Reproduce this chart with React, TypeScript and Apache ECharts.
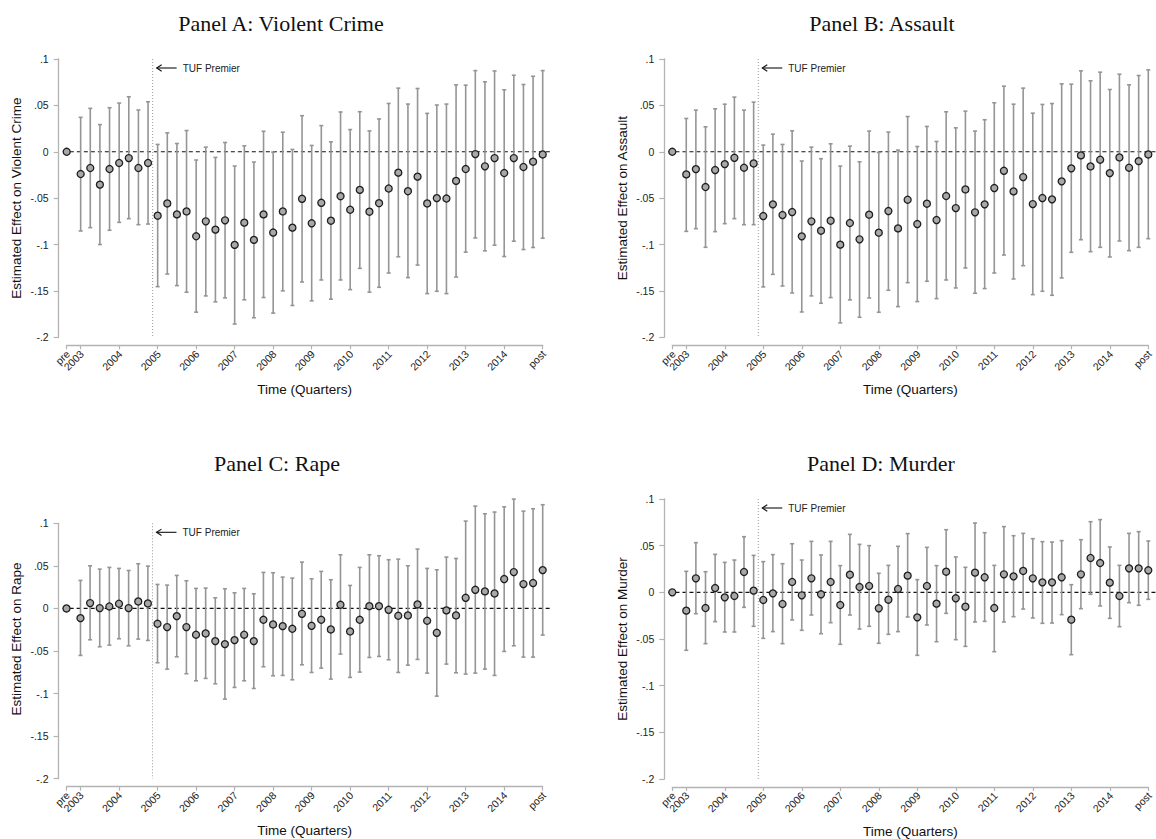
import React, { useEffect, useRef } from "react";
import * as echarts from "echarts";

// ---------- data ----------
const PRE_X = -1.45; // position of "pre" on the quarter axis (2003Q1 = 0)
const POST_X = 48; // position of "post"
const TUF_X = 7.48; // TUF premiere
const quarterX: number[] = [PRE_X, ...Array.from({ length: 48 }, (_, i) => i), POST_X];

const tickValues = [PRE_X, 0, 4, 8, 12, 16, 20, 24, 28, 32, 36, 40, 44, POST_X];
const tickLabels = ["pre", "2003", "2004", "2005", "2006", "2007", "2008", "2009", "2010", "2011", "2012", "2013", "2014", "post"];

const panelTitles = ["Panel A: Violent Crime", "Panel B: Assault", "Panel C: Rape", "Panel D: Murder"];
const yNames = [
  "Estimated Effect on Violent Crime",
  "Estimated Effect on Assault",
  "Estimated Effect on Rape",
  "Estimated Effect on Murder",
];

const coefA = [0,
  -0.024, -0.0175, -0.0354, -0.0186,
  -0.0121, -0.0068, -0.0175, -0.0121,
  -0.0689, -0.0557, -0.0675, -0.0643,
  -0.0911, -0.075, -0.0839, -0.0739,
  -0.1004, -0.0764, -0.095, -0.0675,
  -0.0871, -0.0643, -0.0818, -0.0507,
  -0.0771, -0.055, -0.0743, -0.0479,
  -0.0625, -0.0411, -0.0646, -0.0554,
  -0.0396, -0.0225, -0.0425, -0.0268,
  -0.0557, -0.05, -0.0504, -0.0314,
  -0.0186, -0.0025, -0.0157, -0.0068,
  -0.0229, -0.0068, -0.0164, -0.0107,
  -0.0029];
const upperA = [null,
  0.0371, 0.0468, 0.0293, 0.0475,
  0.0525, 0.0593, 0.045, 0.0539,
  0.0079, 0.0204, 0.0089, 0.0229,
  -0.0089, 0.005, -0.0061, 0.01,
  -0.0154, 0.0064, -0.0111, 0.0221,
  -0.0004, 0.0211, 0.0025, 0.0389,
  0.0068, 0.0282, 0.0107, 0.0429,
  0.0239, 0.0432, 0.0225, 0.0354,
  0.0521, 0.0686, 0.0514, 0.0682,
  0.0414, 0.0504, 0.0514, 0.0721,
  0.0718, 0.0875, 0.0754, 0.0871,
  0.0668, 0.0825, 0.0725, 0.0814,
  0.0875];
const lowerA = [null,
  -0.0854, -0.0818, -0.1, -0.0846,
  -0.0761, -0.0721, -0.0786, -0.0779,
  -0.1454, -0.1318, -0.1443, -0.1514,
  -0.1729, -0.1554, -0.1618, -0.1575,
  -0.1857, -0.1596, -0.1789, -0.1571,
  -0.1739, -0.15, -0.1657, -0.1404,
  -0.1607, -0.1382, -0.1589, -0.1382,
  -0.1486, -0.1257, -0.1514, -0.1461,
  -0.1307, -0.1132, -0.1357, -0.1221,
  -0.1529, -0.1504, -0.1529, -0.135,
  -0.1082, -0.0929, -0.1068, -0.1007,
  -0.1129, -0.0964, -0.1054, -0.1032,
  -0.0932];

const coefB = [0,
  -0.0244, -0.0187, -0.038, -0.0197,
  -0.0133, -0.0065, -0.0172, -0.0126,
  -0.0693, -0.0567, -0.0682, -0.065,
  -0.0912, -0.075, -0.0851, -0.0743,
  -0.1001, -0.0768, -0.0944, -0.0678,
  -0.0872, -0.0639, -0.0826, -0.0517,
  -0.0779, -0.056, -0.0736, -0.0477,
  -0.0607, -0.0406, -0.0653, -0.0567,
  -0.0391, -0.0205, -0.0427, -0.0273,
  -0.0564, -0.0499, -0.0513, -0.0319,
  -0.0179, -0.0039, -0.0158, -0.0086,
  -0.023, -0.0061, -0.0172, -0.0101,
  -0.0029];
const upperB = [null,
  0.0359, 0.0449, 0.0269, 0.0463,
  0.0513, 0.0589, 0.0449, 0.0535,
  0.0072, 0.019, 0.0079, 0.0226,
  -0.01, 0.005, -0.0075, 0.0086,
  -0.0154, 0.0061, -0.0108, 0.0223,
  -0.0007, 0.0212, 0.0018, 0.038,
  0.0057, 0.0273, 0.0111, 0.0431,
  0.0258, 0.0438, 0.0223, 0.0345,
  0.0528, 0.0707, 0.0513, 0.0686,
  0.0416, 0.051, 0.052, 0.0732,
  0.0729, 0.0872, 0.0765, 0.0858,
  0.0671, 0.0836, 0.0721, 0.0822,
  0.0883];
const lowerB = [null,
  -0.0858, -0.0829, -0.103, -0.0861,
  -0.0775, -0.0721, -0.0786, -0.0786,
  -0.1457, -0.1321, -0.1447, -0.1522,
  -0.1727, -0.1554, -0.1633, -0.1572,
  -0.1845, -0.1597, -0.1784, -0.1576,
  -0.173, -0.1493, -0.1669, -0.1411,
  -0.1615, -0.1396, -0.1583, -0.1382,
  -0.1468, -0.1253, -0.1525, -0.1475,
  -0.1307, -0.1113, -0.1371, -0.1228,
  -0.154, -0.1504, -0.1547, -0.136,
  -0.1084, -0.0948, -0.1077, -0.103,
  -0.1134, -0.0962, -0.1066, -0.103,
  -0.0937];

const coefC = [0,
  -0.0114, 0.0063, 0.0004, 0.0023,
  0.0055, 0.0004, 0.0082, 0.0059,
  -0.018, -0.0219, -0.009, -0.0219,
  -0.0309, -0.0294, -0.0384, -0.0419,
  -0.0372, -0.0309, -0.0384, -0.0133,
  -0.0188, -0.0208, -0.0239, -0.0063,
  -0.0204, -0.0133, -0.0247, 0.0043,
  -0.027, -0.0133, 0.0027, 0.0027,
  -0.0016, -0.0086, -0.0082, 0.0047,
  -0.0145, -0.0286, -0.0023, -0.0082,
  0.0125, 0.0219, 0.02, 0.0176,
  0.0345, 0.0427, 0.0286, 0.0298,
  0.045];
const upperC = [null,
  0.0329, 0.0501, 0.0462, 0.0482,
  0.047, 0.0446, 0.0525, 0.0497,
  0.0282, 0.0274, 0.0388, 0.0325,
  0.0235, 0.0239, 0.0125, 0.0231,
  0.0184, 0.0235, 0.0172, 0.0423,
  0.0419, 0.0368, 0.0356, 0.0544,
  0.0348, 0.0435, 0.0337, 0.063,
  0.027, 0.0482, 0.063, 0.0619,
  0.0572, 0.0579, 0.0501, 0.0697,
  0.047, 0.0454, 0.0603, 0.0587,
  0.1026, 0.1202, 0.1112, 0.1132,
  0.1194, 0.1284, 0.1143, 0.1171,
  0.1218];
const lowerC = [null,
  -0.0552, -0.0368, -0.045, -0.0431,
  -0.0356, -0.0439, -0.036, -0.0376,
  -0.0638, -0.0713, -0.0568, -0.0767,
  -0.085, -0.0822, -0.0885, -0.1065,
  -0.0928, -0.085, -0.094, -0.0685,
  -0.0791, -0.0787, -0.0838, -0.0662,
  -0.0752, -0.0701, -0.083, -0.0536,
  -0.081, -0.0748, -0.0576, -0.0564,
  -0.0603, -0.0752, -0.0666, -0.0599,
  -0.076, -0.103, -0.0654, -0.0756,
  -0.0771, -0.076, -0.0713, -0.0787,
  -0.0505, -0.0439, -0.0572, -0.0572,
  -0.0313];

const coefD = [0,
  -0.0196, 0.015, -0.0168, 0.0046,
  -0.0054, -0.0039, 0.0218, 0.0018,
  -0.0082, -0.0011, -0.0125, 0.0111,
  -0.0032, 0.015, -0.0021, 0.0111,
  -0.0136, 0.0189, 0.0057, 0.0068,
  -0.0171, -0.0079, 0.0036, 0.0179,
  -0.0268, 0.0068, -0.0121, 0.0221,
  -0.0064, -0.0154, 0.0211, 0.0161,
  -0.0168, 0.0193, 0.0171, 0.0229,
  0.015, 0.0107, 0.0107, 0.0161,
  -0.0293, 0.0193, 0.0368, 0.0314,
  0.0104, -0.0039, 0.0257, 0.0257,
  0.0236];
const upperD = [null,
  0.0225, 0.0532, 0.0221, 0.0407,
  0.0321, 0.0346, 0.0596, 0.0396,
  0.0329, 0.0404, 0.0307, 0.0521,
  0.0346, 0.0546, 0.04, 0.0546,
  0.0286, 0.0621, 0.0514, 0.05,
  0.0204, 0.0289, 0.0493, 0.0629,
  0.0136, 0.0482, 0.0286, 0.0671,
  0.0379, 0.0268, 0.0743, 0.0639,
  0.0289, 0.0704, 0.0607, 0.0632,
  0.0575, 0.0543, 0.0539, 0.0554,
  0.0082, 0.0564, 0.0757, 0.0779,
  0.0486, 0.0289, 0.0632, 0.065,
  0.055];
const lowerD = [null,
  -0.0621, -0.0229, -0.055, -0.0314,
  -0.0425, -0.0425, -0.0161, -0.0364,
  -0.0493, -0.0421, -0.055, -0.0296,
  -0.0407, -0.0243, -0.0443, -0.0325,
  -0.0557, -0.0243, -0.0393, -0.0364,
  -0.0546, -0.045, -0.0421, -0.0264,
  -0.0675, -0.035, -0.0529, -0.0225,
  -0.0507, -0.0579, -0.0318, -0.0311,
  -0.0636, -0.0318, -0.0261, -0.0179,
  -0.0275, -0.0332, -0.0329, -0.0239,
  -0.0668, -0.0175, -0.0021, -0.0146,
  -0.0279, -0.0368, -0.0111, -0.0139,
  -0.0075];

const coefs = [coefA, coefB, coefC, coefD];
const uppers = [upperA, upperB, upperC, upperD];
const lowers = [lowerA, lowerB, lowerC, lowerD];

// ---------- layout ----------
const grids = [
  { left: 66.7, top: 59, width: 476, height: 278.3 },
  { left: 672.3, top: 59, width: 476, height: 278.3 },
  { left: 66.5, top: 523.3, width: 476.2, height: 255.4 },
  { left: 672.3, top: 499, width: 476, height: 280 },
];
const titlePos = [
  [281, 23],
  [882, 23],
  [277, 463],
  [881, 463],
];
const yNameShift = [0, 0, 24, 0];

const AXIS_OFFSET = 8;
const SANS = '"Liberation Sans", Arial, sans-serif';
const SERIF = '"Liberation Serif", "Times New Roman", serif';
const AXIS_COLOR = "#b3b3b3";
const BAR_COLOR = "#959595";

const fmtY = (v: number) => {
  const r = Math.round(v * 100) / 100;
  if (r === 0) return "0";
  const s = String(Math.abs(r)).replace(/^0/, "");
  return (r < 0 ? "-" : "") + s;
};

function buildOption() {
  const series: any[] = [];
  coefs.forEach((coef, i) => {
    // reference lines & annotation
    series.push({
      type: "custom",
      xAxisIndex: i,
      yAxisIndex: i,
      silent: true,
      clip: false,
      z: 1,
      data: [[TUF_X, 0]],
      renderItem: (_p: any, api: any) => {
        const zl = api.coord([PRE_X - 0.4, 0]);
        const zr = api.coord([POST_X + 0.75, 0]);
        const vt = api.coord([TUF_X, 0.1]);
        const vb = api.coord([TUF_X, -0.2]);
        const ay = vt[1] + 9;
        const ax = vt[0];
        return {
          type: "group",
          children: [
            {
              type: "line",
              shape: { x1: vt[0], y1: vt[1], x2: vb[0], y2: vb[1] },
              style: { stroke: "#9a9a9a", lineWidth: 1, lineDash: [1, 2] },
            },
            {
              type: "line",
              shape: { x1: zl[0], y1: zl[1], x2: zr[0], y2: zr[1] },
              style: { stroke: "#111", lineWidth: 1.2, lineDash: [4, 3] },
            },
            {
              type: "line",
              shape: { x1: ax + 4, y1: ay, x2: ax + 24, y2: ay },
              style: { stroke: "#111", lineWidth: 1.1 },
            },
            {
              type: "polyline",
              shape: { points: [[ax + 9, ay - 3.2], [ax + 4, ay], [ax + 9, ay + 3.2]] },
              style: { stroke: "#111", lineWidth: 1.1, fill: "none" },
            },
            {
              type: "text",
              x: ax + 30,
              y: ay,
              style: {
                text: "TUF Premier",
                fill: "#222",
                fontSize: 10,
                fontFamily: SANS,
                align: "left",
                verticalAlign: "middle",
              },
            },
          ],
        };
      },
    });
    // rotated x tick labels, positioned through the x scale
    series.push({
      type: "custom",
      xAxisIndex: i,
      yAxisIndex: i,
      silent: true,
      clip: false,
      z: 1,
      data: tickValues.map((v, j) => [v, j]),
      renderItem: (_p: any, api: any) => {
        const v = api.value(0);
        const j = api.value(1);
        const pt = api.coord([v, -0.2]);
        return {
          type: "text",
          x: pt[0] + 1.5,
          y: pt[1] + AXIS_OFFSET + 7,
          rotation: Math.PI / 4,
          style: {
            text: tickLabels[j],
            fill: "#222",
            fontSize: 10.5,
            fontFamily: SANS,
            align: "right",
            verticalAlign: "middle",
          },
        };
      },
    });
    // error bars
    const barData: any[] = [];
    quarterX.forEach((x, k) => {
      const lo = lowers[i][k];
      const hi = uppers[i][k];
      if (lo != null && hi != null) barData.push([x, lo, hi]);
    });
    series.push({
      type: "custom",
      xAxisIndex: i,
      yAxisIndex: i,
      silent: true,
      clip: false,
      z: 2,
      encode: { x: 0, y: [1, 2] },
      data: barData,
      renderItem: (_p: any, api: any) => {
        const x = api.value(0);
        const top = api.coord([x, api.value(2)]);
        const bot = api.coord([x, api.value(1)]);
        const cap = 2;
        const st = { stroke: BAR_COLOR, lineWidth: 1.6 };
        return {
          type: "group",
          children: [
            { type: "line", shape: { x1: top[0], y1: top[1], x2: bot[0], y2: bot[1] }, style: st },
            { type: "line", shape: { x1: top[0] - cap, y1: top[1], x2: top[0] + cap, y2: top[1] }, style: st },
            { type: "line", shape: { x1: bot[0] - cap, y1: bot[1], x2: bot[0] + cap, y2: bot[1] }, style: st },
          ],
        };
      },
    });
    // point estimates
    series.push({
      type: "scatter",
      xAxisIndex: i,
      yAxisIndex: i,
      z: 3,
      symbol: "circle",
      symbolSize: 7,
      itemStyle: { color: "#a8a8a8", borderColor: "#1e1e1e", borderWidth: 1.3, opacity: 1 },
      data: quarterX.map((x, k) => [x, coef[k]]),
    });
  });

  return {
    animation: false,
    backgroundColor: "#ffffff",
    grid: grids.map((g) => ({ ...g, containLabel: false })),
    xAxis: grids.map((_g, i) => ({
      gridIndex: i,
      type: "value",
      min: PRE_X,
      max: POST_X,
      offset: AXIS_OFFSET,
      name: "Time (Quarters)",
      nameLocation: "middle",
      nameGap: 37,
      nameTextStyle: { fontFamily: SANS, fontSize: 13.5, color: "#111" },
      axisLine: { show: true, onZero: false, lineStyle: { color: AXIS_COLOR, width: 1.3 } },
      axisTick: { show: true, customValues: tickValues, length: 4, lineStyle: { color: AXIS_COLOR, width: 1.2 } },
      axisLabel: { show: false },
      splitLine: { show: false },
    })),
    yAxis: grids.map((_g, i) => ({
      gridIndex: i,
      type: "value",
      min: -0.2,
      max: 0.1,
      interval: 0.05,
      offset: AXIS_OFFSET,
      name: yNames[i],
      nameLocation: "middle",
      nameGap: 35,
      nameTextStyle: {
        fontFamily: SANS,
        fontSize: 13.5,
        color: "#111",
        padding: [0, 0, 0, yNameShift[i]],
      },
      axisLine: { show: true, onZero: false, lineStyle: { color: AXIS_COLOR, width: 1.3 } },
      axisTick: { show: true, length: 5, lineStyle: { color: AXIS_COLOR, width: 1.2 } },
      axisLabel: {
        formatter: fmtY,
        margin: 10,
        fontFamily: SANS,
        fontSize: 10.5,
        color: "#222",
        showMinLabel: true,
        showMaxLabel: true,
      },
      splitLine: { show: false },
    })),
    graphic: panelTitles.map((t, i) => ({
      type: "text",
      x: titlePos[i][0],
      y: titlePos[i][1],
      style: {
        text: t,
        fill: "#111",
        font: `22px ${SERIF}`,
        textAlign: "center",
        textVerticalAlign: "middle",
        align: "center",
        verticalAlign: "middle",
      },
    })),
    series,
  };
}

export default function App() {
  const ref = useRef<HTMLDivElement>(null);
  useEffect(() => {
    if (!ref.current) return;
    const chart = echarts.init(ref.current, null, { renderer: "svg" });
    chart.setOption(buildOption() as any);
    return () => chart.dispose();
  }, []);
  return (
    <div
      ref={ref}
      style={{ position: "fixed", left: 0, top: 0, width: 1156, height: 839, background: "#fff" }}
    />
  );
}
